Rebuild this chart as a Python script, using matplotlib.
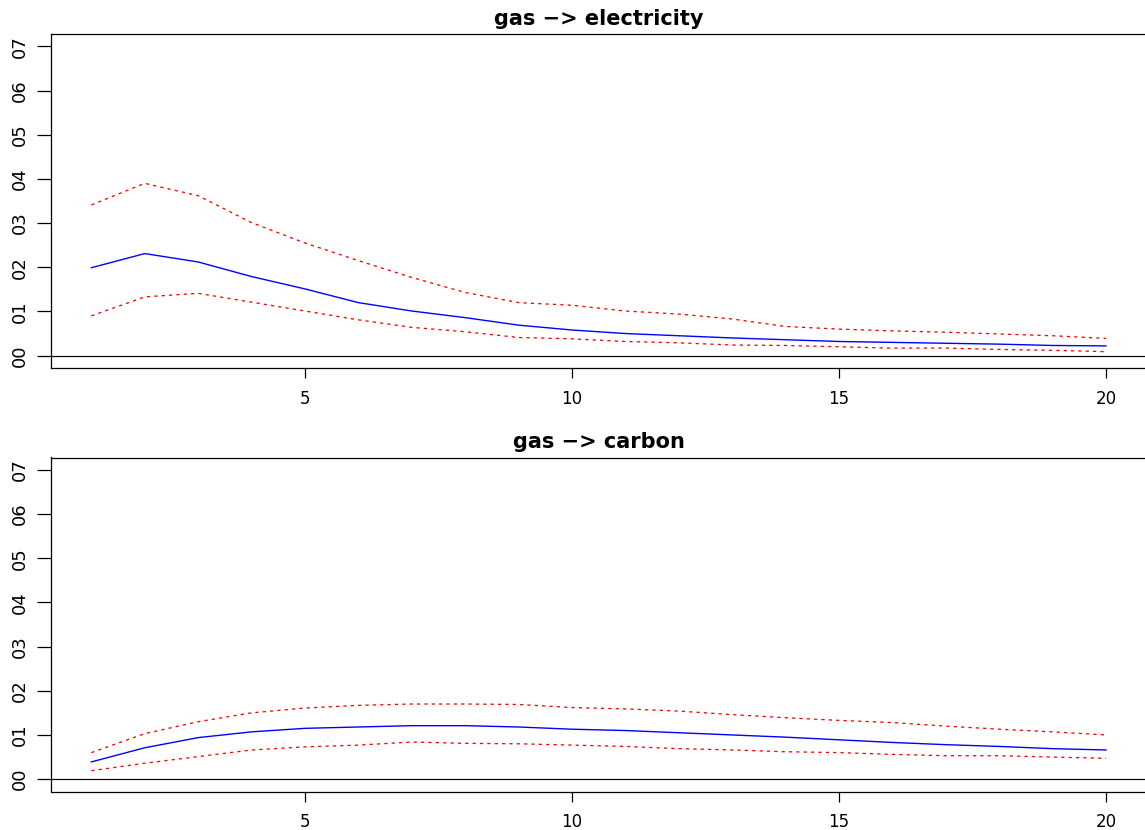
import matplotlib
matplotlib.use("Agg")
import matplotlib.pyplot as plt
import numpy as np

plt.rcParams['font.family'] = ['DejaVu Sans']
plt.rcParams['lines.scale_dashes'] = False

# horizon steps
steps = list(range(1, 21))

# gas -> electricity response with lower / upper bands
elec_mid = [0.199, 0.231, 0.212, 0.179, 0.151, 0.120, 0.101, 0.086, 0.069, 0.058,
            0.050, 0.045, 0.040, 0.036, 0.032, 0.030, 0.028, 0.026, 0.023, 0.022]
elec_hi = [0.341, 0.390, 0.362, 0.301, 0.255, 0.215, 0.177, 0.143, 0.120, 0.114,
           0.101, 0.094, 0.083, 0.066, 0.060, 0.056, 0.053, 0.049, 0.045, 0.039]
elec_lo = [0.090, 0.133, 0.141, 0.121, 0.101, 0.081, 0.064, 0.054, 0.041, 0.038,
           0.032, 0.029, 0.024, 0.023, 0.020, 0.017, 0.017, 0.014, 0.012, 0.009]

# gas -> carbon response with lower / upper bands
carb_mid = [0.039, 0.071, 0.094, 0.107, 0.115, 0.118, 0.121, 0.121, 0.118, 0.113,
            0.110, 0.105, 0.100, 0.095, 0.089, 0.083, 0.078, 0.074, 0.069, 0.066]
carb_hi = [0.060, 0.103, 0.130, 0.150, 0.161, 0.167, 0.170, 0.170, 0.169, 0.162,
           0.159, 0.154, 0.146, 0.139, 0.133, 0.128, 0.120, 0.113, 0.107, 0.100]
carb_lo = [0.019, 0.036, 0.051, 0.066, 0.073, 0.077, 0.084, 0.081, 0.080, 0.077,
           0.074, 0.069, 0.066, 0.062, 0.060, 0.056, 0.053, 0.053, 0.050, 0.047]

titles = ["gas \u2212> electricity", "gas \u2212> carbon"]
y_ticks = [0.0, 0.1, 0.2, 0.3, 0.4, 0.5, 0.6, 0.7]
y_labels = ["00", "01", "02", "03", "04", "05", "06", "07"]
x_ticks = [5, 10, 15, 20]
x_labels = ["5", "10", "15", "20"]

W, H = 1145, 830
fig = plt.figure(figsize=(W / 100, H / 100), dpi=100)

left = 50.8 / W
width = (1146.6 - 50.8) / W
panel_h = 334 / H
bottoms = [1 - 368 / H, 1 - 791.5 / H]

panels = [(elec_mid, elec_lo, elec_hi), (carb_mid, carb_lo, carb_hi)]

for (mid, lo, hi), title, b in zip(panels, titles, bottoms):
    ax = fig.add_axes([left, b, width, panel_h])
    ax.plot(steps, mid, color="#0000ff", lw=1.0, solid_joinstyle="round")
    for band in (lo, hi):
        ax.plot(steps, band, color="#ff0000", lw=0.95, linestyle=(0, (2.3, 3.0)))
    ax.axhline(0, color="black", lw=0.85)

    ax.set_xlim(0.24, 20.76)
    ax.set_ylim(-0.028, 0.728)
    ax.set_xticks(x_ticks)
    ax.set_xticklabels(x_labels)
    ax.set_yticks(y_ticks)
    ax.set_yticklabels(y_labels, rotation=90, va="center")

    ax.tick_params(axis="x", direction="out", length=7.5, width=0.9,
                   labelsize=12, pad=8.2, colors="black")
    ax.tick_params(axis="y", direction="out", length=10, width=0.9,
                   labelsize=13, pad=6, colors="black")
    for sp in ax.spines.values():
        sp.set_linewidth(0.9)
        sp.set_color("black")

    ax.set_title(title, fontsize=15, fontweight="bold", pad=6.5)

fig.savefig("out.png", dpi=100, facecolor="white")
